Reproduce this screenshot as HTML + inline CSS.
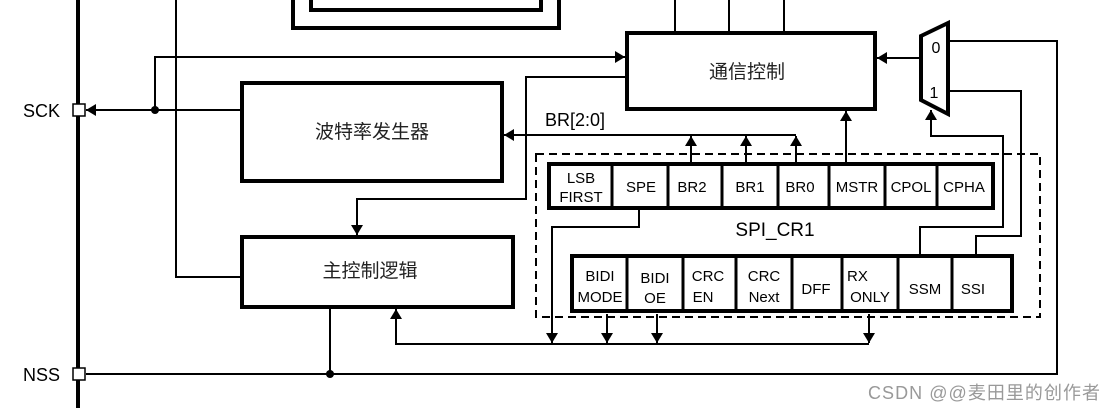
<!DOCTYPE html>
<html><head><meta charset="utf-8"><style>
html,body{margin:0;padding:0;background:#fff;}
svg{display:block;}
text{font-family:"Liberation Sans","Noto Sans CJK SC",sans-serif;fill:#000;}
.cn{font-family:"Noto Sans CJK SC","Liberation Sans",sans-serif;font-size:19px;fill:#222;}
.r{font-size:15px;}
</style></head><body>
<svg width="1113" height="412" viewBox="0 0 1113 412" xmlns="http://www.w3.org/2000/svg">
<defs>
<marker id="a" markerWidth="10" markerHeight="12" refX="10" refY="6" orient="auto" markerUnits="userSpaceOnUse">
<path d="M0,0 L10,6 L0,12 z" fill="#000"/></marker>
</defs>
<g fill="none" stroke="#000">
<line x1="78" y1="0" x2="78" y2="408" stroke-width="4"/>
<path d="M293,-2 V28 H559 V-2" stroke-width="4"/>
<path d="M311,-2 V10 H541 V-2" stroke-width="4"/>
<rect x="242" y="83" width="260" height="98" stroke-width="4"/>
<rect x="242" y="237" width="271" height="70" stroke-width="4"/>
<rect x="627" y="33" width="248" height="76" stroke-width="4"/>
<g stroke-width="2">
<line x1="675" y1="0" x2="675" y2="32"/>
<line x1="729" y1="0" x2="729" y2="32"/>
<line x1="784" y1="0" x2="784" y2="32"/>
<path d="M176,0 V277 H240"/>
<line x1="240" y1="110" x2="86" y2="110" marker-end="url(#a)"/>
<path d="M155,110 V57 H625" marker-end="url(#a)"/>
<path d="M625,77 H526 V199 H357 V235" marker-end="url(#a)"/>
<line x1="796" y1="135" x2="504" y2="135" marker-end="url(#a)"/>
<line x1="691" y1="162" x2="691" y2="136" marker-end="url(#a)"/>
<line x1="746" y1="162" x2="746" y2="136" marker-end="url(#a)"/>
<line x1="796" y1="162" x2="796" y2="136" marker-end="url(#a)"/>
<line x1="846" y1="162" x2="846" y2="111" marker-end="url(#a)"/>
<line x1="920" y1="58" x2="877" y2="58" marker-end="url(#a)"/>
<path d="M949,41 H1057 V374 H86"/>
<path d="M949,91 H1021 V236 H976 V255"/>
<path d="M920,255 V227 H1003 V136 H931 V110" marker-end="url(#a)"/>
<path d="M639,210 V227 H552 V343" marker-end="url(#a)"/>
<line x1="607" y1="314" x2="607" y2="343" marker-end="url(#a)"/>
<line x1="657" y1="314" x2="657" y2="343" marker-end="url(#a)"/>
<line x1="869" y1="314" x2="869" y2="343" marker-end="url(#a)"/>
<path d="M869,344 H396 V309" marker-end="url(#a)"/>
<line x1="330" y1="308" x2="330" y2="374"/>
</g>
<rect x="536" y="154" width="504" height="163" stroke-width="2" stroke-dasharray="8,5"/>
<path d="M921,36 L948,23 V114 L921,100 Z" stroke-width="4" fill="#fff"/>
<rect x="549" y="164" width="444" height="44" stroke-width="4" fill="#fff"/>
<g stroke-width="3">
<line x1="612" y1="164" x2="612" y2="208"/><line x1="668" y1="164" x2="668" y2="208"/>
<line x1="722" y1="164" x2="722" y2="208"/><line x1="778" y1="164" x2="778" y2="208"/>
<line x1="829" y1="164" x2="829" y2="208"/><line x1="885" y1="164" x2="885" y2="208"/>
<line x1="937" y1="164" x2="937" y2="208"/>
</g>
<rect x="572" y="256" width="440" height="55" stroke-width="4" fill="#fff"/>
<g stroke-width="3">
<line x1="627" y1="256" x2="627" y2="311"/><line x1="683" y1="256" x2="683" y2="311"/>
<line x1="736" y1="256" x2="736" y2="311"/><line x1="792" y1="256" x2="792" y2="311"/>
<line x1="842" y1="256" x2="842" y2="311"/><line x1="898" y1="256" x2="898" y2="311"/>
<line x1="952" y1="256" x2="952" y2="311"/>
</g>
<rect x="73" y="104" width="12" height="12" stroke-width="1.5" fill="#fff"/>
<rect x="73" y="368" width="12" height="12" stroke-width="1.5" fill="#fff"/>
</g>
<circle cx="155" cy="110" r="4"/>
<circle cx="330" cy="374" r="4"/>
<text x="23" y="117" font-size="18">SCK</text>
<text x="23" y="381" font-size="18">NSS</text>
<text class="cn" x="372" y="138" text-anchor="middle">波特率发生器</text>
<text class="cn" x="370" y="277" text-anchor="middle">主控制逻辑</text>
<text class="cn" x="747" y="78" text-anchor="middle">通信控制</text>
<text x="545" y="126" font-size="18">BR[2:0]</text>
<text x="936" y="53" font-size="16" text-anchor="middle">0</text>
<text x="934" y="98" font-size="16" text-anchor="middle">1</text>
<text x="775" y="236" font-size="19" text-anchor="middle">SPI_CR1</text>
<g class="r" text-anchor="middle">
<text x="581" y="183">LSB</text><text x="581" y="202">FIRST</text>
<text x="641" y="192">SPE</text><text x="692" y="192">BR2</text>
<text x="750" y="192">BR1</text><text x="800" y="192">BR0</text>
<text x="857" y="192">MSTR</text><text x="911" y="192">CPOL</text>
<text x="964" y="192">CPHA</text>
<text x="600" y="281">BIDI</text><text x="600" y="302">MODE</text>
<text x="655" y="283">BIDI</text><text x="655" y="303">OE</text>
<text x="708" y="281">CRC</text><text x="703" y="302">EN</text>
<text x="764" y="281">CRC</text><text x="764" y="302">Next</text>
<text x="816" y="294">DFF</text>
<text x="847" y="281" text-anchor="start">RX</text><text x="870" y="302">ONLY</text>
<text x="925" y="294">SSM</text><text x="973" y="294">SSI</text>
</g>
<text x="868" y="399" font-size="18" textLength="232" style="fill:#999">CSDN @@麦田里的创作者</text>
</svg>
</body></html>
